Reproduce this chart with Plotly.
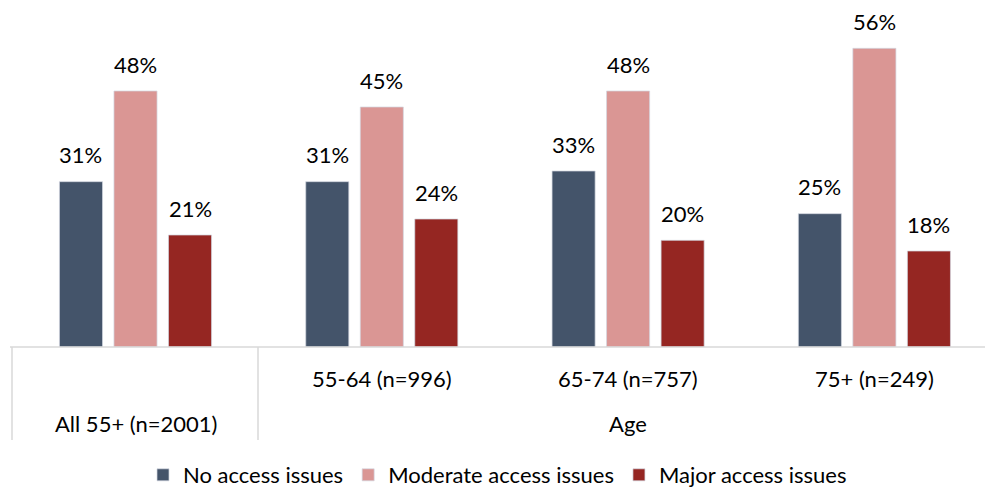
import plotly.graph_objects as go

categories = ["All 55+ (n=2001)", "55-64 (n=996)", "65-74 (n=757)", "75+ (n=249)"]
group_label = "Age"
series_names = ["No access issues", "Moderate access issues", "Major access issues"]
no_access = [31, 31, 33, 25]
moderate_access = [48, 45, 48, 56]
major_access = [21, 24, 20, 18]
colors = ["#44546A", "#DA9694", "#952622"]

FONT = "Lato, Carlito, Calibri, sans-serif"
FS = 22
values = [no_access, moderate_access, major_access]
xs = list(range(len(categories)))

fig = go.Figure()
for name, vals, col in zip(series_names, values, colors):
    fig.add_trace(go.Bar(x=xs, y=vals, name=name,
                         marker=dict(color=col, line=dict(width=0.8, color="rgba(210,215,225,0.9)")),
                         hoverinfo="skip"))

bargap = 0.336
bargroupgap = 0.21
slot = (1 - bargap) / 3
ph = 320  # plot height in px
annos = []
for k, vals in enumerate(values):
    off = (k - 1) * slot
    for i, v in enumerate(vals):
        annos.append(dict(x=i + off, y=v, xref="x", yref="y", text=f"{v}%", showarrow=False,
                          yanchor="middle", yshift=27, font=dict(size=FS, color="#000", family=FONT)))

# category labels (table under axis)
annos.append(dict(x=0, y=-(423 - 347) / ph, xref="x", yref="paper", text=categories[0], showarrow=False,
                  yanchor="middle", font=dict(size=FS, color="#000", family=FONT)))
for i in range(1, 4):
    annos.append(dict(x=i, y=-(378 - 347) / ph, xref="x", yref="paper", text=categories[i], showarrow=False,
                      yanchor="middle", font=dict(size=FS, color="#000", family=FONT)))
annos.append(dict(x=2.0, y=-(423 - 347) / ph, xref="x", yref="paper", text=group_label, showarrow=False,
                  yanchor="middle", font=dict(size=FS, color="#000", family=FONT)))

lo = (10 - 135.5) / 246.3
hi = (985 - 135.5) / 246.3
sep1 = (12 - 135.5) / 246.3
sep2 = (258 - 135.5) / 246.3

line_col = "#D9D9D9"
shapes = [
    dict(type="line", xref="paper", yref="paper", x0=0, x1=1, y0=0, y1=0, line=dict(color=line_col, width=1.5)),
    dict(type="line", xref="x", yref="paper", x0=sep1, x1=sep1, y0=0, y1=-(440 - 347) / ph, line=dict(color=line_col, width=1.5)),
    dict(type="line", xref="x", yref="paper", x0=sep2, x1=sep2, y0=0, y1=-(440 - 347) / ph, line=dict(color=line_col, width=1.5)),
]

fig.update_layout(
    width=985, height=487,
    margin=dict(l=10, r=0, t=27, b=140),
    plot_bgcolor="white", paper_bgcolor="white",
    barmode="group", bargap=bargap, bargroupgap=bargroupgap,
    xaxis=dict(range=[lo, hi], showticklabels=False, showgrid=False, zeroline=False, fixedrange=True),
    yaxis=dict(range=[0, 60], visible=False, fixedrange=True),
    showlegend=True,
    legend=dict(orientation="h", x=0.5, xanchor="center", xref="paper",
                y=(487 - 475) / 487, yref="container", yanchor="middle",
                font=dict(size=FS, color="#000", family=FONT), itemwidth=30, traceorder="normal"),
    annotations=annos,
    shapes=shapes,
    font=dict(family=FONT),
)

fig.write_html("out.html", config={"displayModeBar": False},
               post_script="document.body.style.margin='0';document.body.style.overflow='hidden';")
